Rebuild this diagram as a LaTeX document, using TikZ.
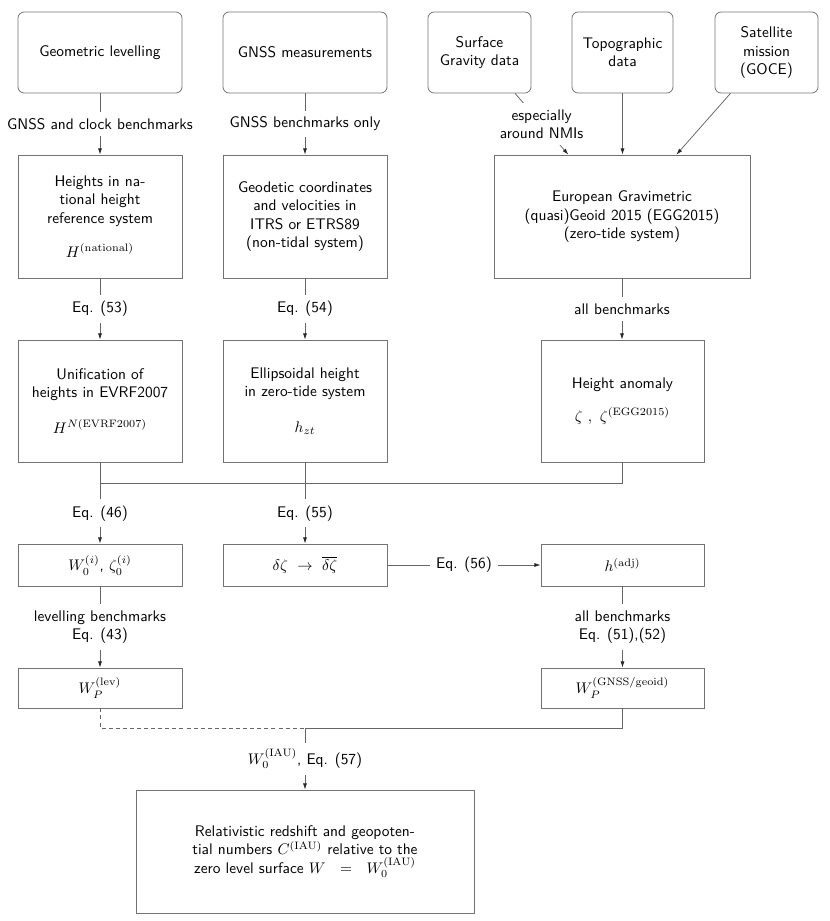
\documentclass[tikz,border=0pt]{standalone}
\usetikzlibrary{arrows.meta,calc}
\begin{document}
\begin{tikzpicture}[x=0.65pt,y=-0.65pt,
  font=\sffamily,
  box/.style={draw=black!55, line width=0.5pt, align=center, inner sep=2pt, text=black},
  rbox/.style={box, rounded corners=4pt},
  colw/.style={minimum width=106.6pt},
  conn/.style={draw=black!60, line width=0.5pt},
  arr/.style={conn, -{Latex[length=4pt,width=2.6pt,color=black!85]}},
  lab/.style={fill=white, inner sep=4pt, align=center, text=black},
  dsh/.style={conn, dash pattern=on 2.6pt off 2pt}
]
\useasboundingbox (0,0) rectangle (830,921);

% top row
\node[rbox, colw, minimum height=52.65pt] (geo) at (100,52.5) {Geometric levelling};
\node[rbox, colw, minimum height=52.65pt] (gnss) at (305,52.5) {GNSS measurements};
\node[rbox, minimum width=66.95pt, minimum height=52.65pt] (surf) at (479.5,52.5) {Surface\\Gravity data};
\node[rbox, minimum width=65.65pt, minimum height=52.65pt] (topo) at (622.5,52.5) {Topographic\\data};
\node[rbox, minimum width=66.95pt, minimum height=52.65pt] (sat) at (766.5,52.5) {Satellite\\mission\\(GOCE)};

% second row
\node[box, colw, minimum height=79.95pt] (nat) at (100,216.5) {Heights in na-\\tional height\\reference system\\[10pt]$H^{(\mathrm{national})}$};
\node[box, colw, minimum height=79.95pt] (itrs) at (305,216.5) {Geodetic coordinates\\and velocities in\\ITRS or ETRS89\\(non-tidal system)};
\node[box, minimum width=166.4pt, minimum height=79.95pt] (egg) at (622,216.5) {European Gravimetric\\(quasi)Geoid 2015 (EGG2015)\\(zero-tide system)};

% third row
\node[box, colw, minimum height=79.3pt] (unif) at (100,401) {Unification of\\heights in EVRF2007\\[11pt]$H^{N(\mathrm{EVRF2007})}$};
\node[box, colw, minimum height=79.3pt] (ell) at (305,401) {Ellipsoidal height\\in zero-tide system\\[11pt]$h_{zt}$};
\node[box, minimum width=106pt, minimum height=79.3pt] (ha) at (622.5,401) {Height anomaly\\[9pt]$\zeta\ ,\ \zeta^{(\mathrm{EGG2015})}$};

% fourth row
\node[box, colw, minimum height=27.3pt] (w0) at (100,565) {$W_0^{(i)}$, $\zeta_0^{(i)}$};
\node[box, colw, minimum height=27.3pt] (dz) at (305,565) {$\delta\zeta\ \rightarrow\ \overline{\delta\zeta}$};
\node[box, minimum width=106pt, minimum height=27.3pt] (hadj) at (622.5,565) {$h^{(\mathrm{adj})}$};

% fifth row
\node[box, colw, minimum height=26pt] (wlev) at (100,688) {$W_P^{(\mathrm{lev})}$};
\node[box, minimum width=106pt, minimum height=26pt] (wgn) at (622.5,688) {$W_P^{(\mathrm{GNSS/geoid})}$};

% bottom
\node[box, minimum width=219.7pt, minimum height=80pt] (rel) at (305,851.5) {Relativistic redshift and geopoten-\\tial numbers $C^{(\mathrm{IAU})}$ relative to the\\zero level surface $W\ \ =\ \ W_0^{(\mathrm{IAU})}$};

\coordinate (j1) at (305,483);
\coordinate (j2) at (305,728);

% connectors top
\draw[arr] (geo) -- node[lab]{GNSS and clock benchmarks} (nat);
\draw[arr] (gnss) -- node[lab]{GNSS benchmarks only} (itrs);
\draw[arr] (surf) -- node[lab]{especially\\around NMIs} (egg);
\draw[arr] (topo.south) -- (topo.south |- egg.north);
\draw[arr] (sat) -- (egg);

\draw[arr] (nat) -- node[lab]{Eq. (53)} (unif);
\draw[arr] (itrs) -- node[lab]{Eq. (54)} (ell);
\draw[arr] (egg.south) -- node[lab]{all benchmarks} (egg.south |- ha.north);

% junction 1
\draw[conn] (unif.south) -- (unif.south |- j1) -- (ha.south |- j1) -- (ha.south);
\draw[conn] (ell.south) -- (j1);
\draw[arr] (unif.south |- j1) -- node[lab]{Eq. (46)} (w0.north);
\draw[arr] (j1) -- node[lab]{Eq. (55)} (dz.north);

\draw[arr] (dz.east) -- node[lab]{Eq. (56)} (hadj.west);

\draw[arr] (w0) -- node[lab]{levelling benchmarks\\Eq. (43)} (wlev);
\draw[arr] (hadj) -- node[lab]{all benchmarks\\Eq. (51),(52)} (wgn);

% junction 2
\draw[dsh] (wlev.south) |- (j2);
\draw[conn] (wgn.south) |- (j2);
\draw[arr] (j2) -- node[lab]{$W_0^{(\mathrm{IAU})}$, Eq. (57)} (rel.north);
\end{tikzpicture}
\end{document}
